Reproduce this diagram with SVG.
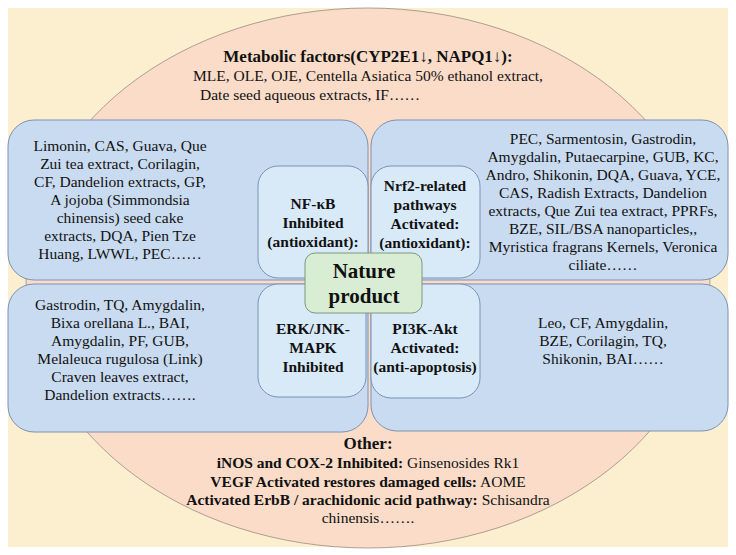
<svg xmlns="http://www.w3.org/2000/svg" width="736" height="555" viewBox="0 0 736 555" font-family="'Liberation Serif','Times New Roman','DejaVu Serif',serif">
<style>
text{font-family:'Liberation Serif','Times New Roman','DejaVu Serif',serif;font-size:15.5px;fill:#111;text-anchor:middle}
.b{font-weight:bold}
.big{font-weight:bold;font-size:17px}
.outer{fill:#c9dbf0;stroke:#7a92b4;stroke-width:1}
.inner{fill:#d8e9f8;stroke:#7a92b4;stroke-width:1}
</style>
<rect x="8" y="8" width="720" height="539" fill="#fcefcf"/>
<ellipse cx="368" cy="278" rx="342" ry="270" fill="#fadcc8" stroke="#9a8a80" stroke-width="0.8"/>
<g id="metabolic">
<text x="368" y="62" class="big">Metabolic factors(CYP2E1↓, NAPQ1↓):</text>
<text x="368" y="81">MLE, OLE, OJE, Centella Asiatica 50% ethanol extract,</text>
<text x="310" y="100">Date seed aqueous extracts, IF……</text>
</g>
<g id="tl"><rect class="outer" x="8" y="120" width="360" height="160" rx="26"/>
<text x="120" y="151">Limonin, CAS, Guava, Que</text>
<text x="120" y="169">Zui tea extract, Corilagin,</text>
<text x="120" y="187">CF, Dandelion extracts, GP,</text>
<text x="120" y="205">A jojoba (Simmondsia</text>
<text x="120" y="223">chinensis) seed cake</text>
<text x="120" y="241">extracts, DQA, Pien Tze</text>
<text x="120" y="259">Huang, LWWL, PEC……</text></g>
<g id="tr"><rect class="outer" x="371" y="120" width="357" height="160" rx="26"/>
<text x="603" y="144">PEC, Sarmentosin, Gastrodin,</text>
<text x="603" y="162">Amygdalin, Putaecarpine, GUB, KC,</text>
<text x="603" y="180">Andro, Shikonin, DQA, Guava, YCE,</text>
<text x="603" y="198">CAS, Radish Extracts, Dandelion</text>
<text x="603" y="216">extracts, Que Zui tea extract, PPRFs,</text>
<text x="603" y="234">BZE, SIL/BSA nanoparticles,,</text>
<text x="603" y="252">Myristica fragrans Kernels, Veronica</text>
<text x="603" y="270">ciliate……</text></g>
<g id="bl"><rect class="outer" x="8" y="284" width="360" height="148" rx="26"/>
<text x="120" y="310">Gastrodin, TQ, Amygdalin,</text>
<text x="120" y="328">Bixa orellana L., BAI,</text>
<text x="120" y="346">Amygdalin, PF, GUB,</text>
<text x="120" y="364">Melaleuca rugulosa (Link)</text>
<text x="120" y="382">Craven leaves extract,</text>
<text x="120" y="400">Dandelion extracts…….</text></g>
<g id="br"><rect class="outer" x="371" y="284" width="357" height="147" rx="26"/>
<text x="603" y="328">Leo, CF, Amygdalin,</text>
<text x="603" y="346">BZE, Corilagin, TQ,</text>
<text x="603" y="364">Shikonin, BAI……</text></g>
<g id="nfkb"><rect class="inner" x="258" y="166" width="110" height="112" rx="20"/>
<text x="313" y="209" class="b">NF-κB</text>
<text x="313" y="228" class="b">Inhibited</text>
<text x="313" y="247" class="b">(antioxidant):</text></g>
<g id="nrf2"><rect class="inner" x="371" y="166" width="109" height="112" rx="20"/>
<text x="425" y="191" class="b">Nrf2-related</text>
<text x="425" y="210" class="b">pathways</text>
<text x="425" y="229" class="b">Activated:</text>
<text x="425" y="248" class="b">(antioxidant):</text></g>
<g id="erk"><rect class="inner" x="258" y="284" width="108" height="113" rx="20"/>
<text x="313" y="334" class="b">ERK/JNK-</text>
<text x="313" y="353" class="b">MAPK</text>
<text x="313" y="372" class="b">Inhibited</text></g>
<g id="pi3k"><rect class="inner" x="371" y="284" width="109" height="114" rx="20"/>
<text x="425" y="334" class="b">PI3K-Akt</text>
<text x="425" y="353" class="b">Activated:</text>
<text x="425" y="372" class="b">(anti-apoptosis)</text></g>
<g id="nature"><rect x="305" y="253" width="117" height="60" rx="10" fill="#d8edd3" stroke="#7a9a7a"/>
<text x="364" y="278" class="b" style="font-size:21px">Nature</text>
<text x="364" y="303" class="b" style="font-size:21px">product</text></g>
<g id="other">
<text x="368" y="449" class="big">Other:</text>
<text x="368" y="468"><tspan class="b">iNOS and COX-2 Inhibited:</tspan> Ginsenosides Rk1</text>
<text x="368" y="487"><tspan class="b">VEGF Activated restores damaged cells:</tspan> AOME</text>
<text x="368" y="505"><tspan class="b">Activated ErbB / arachidonic acid pathway:</tspan> Schisandra</text>
<text x="368" y="523">chinensis…….</text>
</g>
<g id="connectors"/>
</svg>
